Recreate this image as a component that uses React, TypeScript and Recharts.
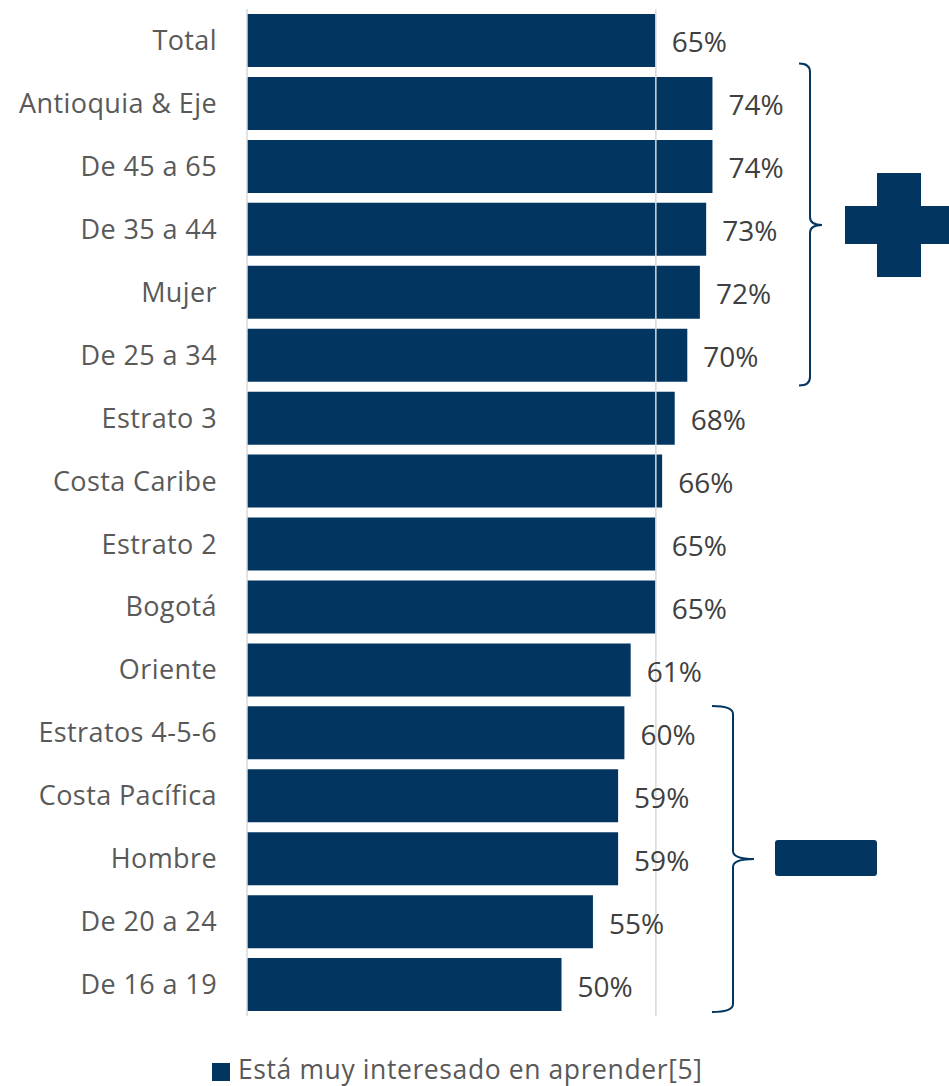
import React from 'react';
import { BarChart, Bar, XAxis, YAxis, LabelList, ReferenceLine, Legend } from 'recharts';

const categories = ['Total', 'Antioquia & Eje', 'De 45 a 65', 'De 35 a 44', 'Mujer', 'De 25 a 34', 'Estrato 3', 'Costa Caribe', 'Estrato 2', 'Bogotá', 'Oriente', 'Estratos 4-5-6', 'Costa Pacífica', 'Hombre', 'De 20 a 24', 'De 16 a 19'];
const values = [65, 74, 74, 73, 72, 70, 68, 66, 65, 65, 61, 60, 59, 59, 55, 50];
const seriesName = 'Está muy interesado en aprender[5]';
const totalValue = 65;

const data = categories.map((name, i) => ({ name, value: values[i] }));

const BAR = '#023660';
const FONT = '"Open Sans", sans-serif';

const LegendContent = () => (
  <div style={{ display: 'flex', alignItems: 'center', height: 25, lineHeight: '25px', fontFamily: FONT, fontSize: 26.5, color: '#595959', whiteSpace: 'nowrap' }}>
    <span style={{ display: 'inline-block', width: 18, height: 18, background: BAR, marginRight: 8, marginTop: 4 }} />
    <span style={{ letterSpacing: 0.6 }}>{seriesName}</span>
  </div>
);

export default function App() {
  return (
    <div style={{ position: 'absolute', left: 0, top: 0, width: 949, height: 1086, background: '#fff', overflow: 'hidden' }}>
      <BarChart
        width={949}
        height={1086}
        data={data}
        layout="vertical"
        margin={{ top: 9, right: 73, bottom: 45, left: 0 }}
        barSize={53}
      >
        <XAxis type="number" domain={[0, 100]} hide />
        <YAxis
          type="category"
          dataKey="name"
          width={247}
          axisLine={{ stroke: '#d9d9d9', strokeWidth: 1.5 }}
          tickLine={false}
          tickSize={0}
          tickMargin={30}
          interval={0}
          tick={{ fill: '#595959', fontSize: 27, fontFamily: FONT, letterSpacing: 0.4 }}
        />
        <ReferenceLine x={totalValue} stroke="#d9d9d9" strokeWidth={1.5} />
        <Bar dataKey="value" name={seriesName} fill={BAR} isAnimationActive={false}>
          <LabelList
            dataKey="value"
            position="right"
            offset={16}
            dy={2}
            formatter={(v: number) => `${v}%`}
            style={{ fill: '#404040', fontSize: 28, fontFamily: FONT }}
          />
        </Bar>
        <Legend content={<LegendContent />} wrapperStyle={{ position: 'absolute', left: 212, top: 1057, width: 540, height: 25 }} />
      </BarChart>
      <svg width={949} height={1086} style={{ position: 'absolute', left: 0, top: 0, pointerEvents: 'none' }}>
        <path d="M 799 63.5 Q 810 63.5 810 72 L 810 217 Q 810 225 822 225 Q 810 225 810 233 L 810 377 Q 810 385.5 799 385.5" fill="none" stroke={BAR} strokeWidth={2} />
        <path d="M 877 173 H 921 V 206 H 953 V 244 H 921 V 277 H 877 V 244 H 845 V 206 H 877 Z" fill={BAR} />
        <path d="M 712 706 Q 733 706 733 714 L 733 851 Q 733 859 754 859 Q 733 859 733 867 L 733 1004 Q 733 1012 712 1012" fill="none" stroke={BAR} strokeWidth={2} />
        <rect x={775} y={840} width={102} height={36} rx={3} fill={BAR} />
      </svg>
    </div>
  );
}
